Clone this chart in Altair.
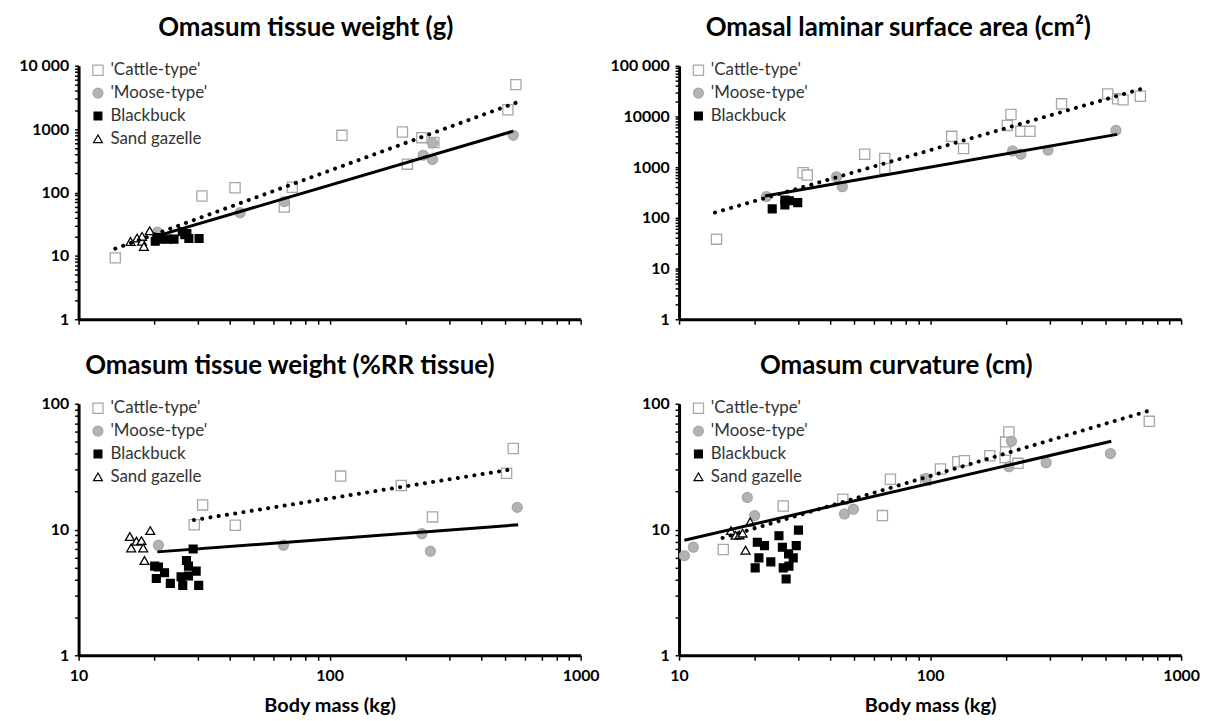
import altair as alt
import pandas as pd

GROUPS = ["'Cattle-type'", "'Moose-type'", "Blackbuck", "Sand gazelle"]

# ---- Panel 1: Omasum tissue weight (g)
cattle_x1 = [14, 31, 42, 66, 71, 112, 195, 204, 233, 260, 513, 552]
cattle_y1 = [9.3, 88, 119, 59, 121, 798, 899, 280, 734, 613, 2018, 5035]
moose_x1 = [20.6, 44, 66, 236, 257, 257, 539]
moose_y1 = [23.7, 48, 72, 387, 604, 332, 798]
bb_x1 = [20.2, 20.5, 21.2, 22.6, 24.0, 25.9, 26.5, 27.0, 27.5, 30.2]
bb_y1 = [17.0, 19.5, 18.4, 18.4, 18.4, 24.3, 21.5, 22.5, 18.8, 18.8]
sg_x1 = [16.1, 17.1, 17.9, 18.2, 19.2, 17.9]
sg_y1 = [16.9, 19.1, 17.0, 14.1, 24.9, 20.3]
cattle_fit_x1 = [14, 560]
cattle_fit_y1 = [13, 2656]
moose_fit_x1 = [20.3, 539]
moose_fit_y1 = [20.3, 930]

# ---- Panel 2: Omasal laminar surface area (cm2)
cattle_x2 = [14.1, 31.2, 32.4, 54.9, 66, 66, 122, 136, 203, 210, 230, 250, 334, 510, 559, 587, 688]
cattle_y2 = [38, 774, 697, 1799, 1480, 943, 4055, 2323, 6664, 10940, 5080, 5080, 17740, 27870, 22230, 21230, 25000]
moose_x2 = [22.3, 42.4, 44.7, 213, 230, 295, 550]
moose_y2 = [262, 646, 411, 2090, 1799, 2154, 5310]
bb_x2 = [23.5, 26.4, 26.4, 27.5, 29.7]
bb_y2 = [150, 180, 225, 218, 200]
cattle_fit_x2 = [13.9, 694]
cattle_fit_y2 = [127, 34900]
moose_fit_x2 = [22, 556]
moose_fit_y2 = [270, 4436]

# ---- Panel 3: Omasum tissue weight (%RR tissue)
cattle_x3 = [28.9, 31.2, 42.1, 110.6, 193, 257, 507, 539]
cattle_y3 = [10.9, 15.7, 10.8, 26.6, 22.4, 12.6, 28.0, 44.1]
moose_x3 = [20.8, 65.5, 233, 252, 559]
moose_y3 = [7.5, 7.5, 9.26, 6.72, 15.0]
bb_x3 = [20.1, 20.8, 20.4, 22.0, 23.2, 26.0, 25.6, 26.9, 27.4, 27.4, 29.4, 30.1, 28.6]
bb_y3 = [5.12, 5.04, 4.08, 4.53, 3.73, 3.6, 4.21, 5.67, 5.12, 4.27, 4.67, 3.6, 7.0]
sg_x3 = [16.0, 16.2, 17.0, 17.8, 18.1, 18.3, 19.3]
sg_y3 = [8.8, 7.14, 8.07, 8.17, 7.14, 5.67, 9.8]
cattle_fit_x3 = [28.8, 544]
cattle_fit_y3 = [11.9, 30.3]
moose_fit_x3 = [20.6, 564]
moose_fit_y3 = [6.64, 10.9]

# ---- Panel 4: Omasum curvature (cm)
cattle_x4 = [15, 26, 44.9, 64.6, 69.5, 96, 110, 129, 137, 173, 199, 200, 200, 206, 224, 747]
cattle_y4 = [6.93, 15.4, 17.4, 12.9, 25.1, 24.8, 30.3, 34.6, 35.2, 38.6, 37.4, 42.7, 49.8, 59.7, 33.6, 72.5]
moose_x4 = [10.5, 11.4, 18.7, 20.0, 45.6, 49.5, 96.4, 206, 211, 290, 523]
moose_y4 = [6.2, 7.23, 18.0, 12.9, 13.3, 14.5, 25.5, 31.6, 50.3, 34.0, 40.2]
bb_x4 = [20.5, 20.8, 20.1, 21.9, 23.2, 25.0, 25.8, 26.0, 26.7, 27.4, 27.3, 28.5, 29.3, 29.9]
bb_y4 = [7.92, 5.95, 4.96, 7.45, 5.53, 8.93, 7.23, 4.96, 4.04, 5.12, 6.4, 5.95, 7.45, 9.9]
sg_x4 = [16.1, 16.8, 17.4, 17.9, 19.2, 18.4]
sg_y4 = [9.8, 9.0, 9.06, 9.36, 11.5, 6.85]
cattle_fit_x4 = [14.9, 752]
cattle_fit_y4 = [8.57, 88.5]
moose_fit_x4 = [10.5, 527]
moose_fit_y4 = [8.22, 50.3]

STYLE = {
    "'Cattle-type'": dict(shape="square", fill="white", stroke="#a6a6a6", size=105),
    "'Moose-type'": dict(shape="circle", fill="#b3b3b3", stroke="#a6a6a6", size=100),
    "Blackbuck": dict(shape="square", fill="black", stroke="black", size=62),
    "Sand gazelle": dict(shape="triangle-up", fill="white", stroke="black", size=80),
}

FONT = "Lato"


def minor_ticks(lo_exp, hi_exp):
    vals = []
    for e in range(lo_exp, hi_exp):
        for m in range(1, 10):
            vals.append(m * 10 ** e)
    vals.append(10 ** hi_exp)
    return vals


def label_expr(labels):
    expr = "''"
    for v, t in labels.items():
        expr = f"datum.value == {v} ? '{t}' : ({expr})"
    return expr


def panel(title, dx, series, fits, ymax_exp, ylabels, bottom):
    groups = [g for g, _, _ in series]
    rows = []
    for g, xs, ys in series:
        for a, b in zip(xs, ys):
            rows.append({"x": a, "y": b, "group": g})
    df = pd.DataFrame(rows)
    frows = []
    for kind, xs, ys in fits:
        for a, b in zip(xs, ys):
            frows.append({"x": a, "y": b, "kind": kind})
    fdf = pd.DataFrame(frows)

    xscale = alt.Scale(type="log", domain=[10, 1000], nice=False)
    yscale = alt.Scale(type="log", domain=[1, 10 ** ymax_exp], nice=False)
    xaxis = alt.Axis(
        values=minor_ticks(1, 3),
        labelExpr=label_expr({10: "10", 100: "100", 1000: "1000"}) if bottom else "''",
        labels=bottom,
        title="Body mass (kg)" if bottom else None,
        titleFont=FONT, titleFontSize=20, titleFontWeight="bold", titleColor="black",
        titlePadding=13,
        labelFont=FONT, labelFontSize=16, labelFontWeight="bold", labelColor="black",
        labelOverlap=False, labelPadding=7, labelFlush=False,
        domainColor="black", domainWidth=3, tickColor="black", tickWidth=1.5, tickSize=5,
        grid=False,
    )
    yaxis = alt.Axis(
        values=minor_ticks(0, ymax_exp),
        labelExpr=label_expr(ylabels),
        title=None,
        labelFont=FONT, labelFontSize=16, labelFontWeight="bold", labelColor="black",
        labelOverlap=False, labelPadding=6, labelFlush=False,
        domainColor="black", domainWidth=3, tickColor="black", tickWidth=1.5, tickSize=4,
        grid=False,
    )
    legend = alt.Legend(
        orient="none", legendX=11, legendY=-4, title=None, padding=0,
        labelFont=FONT, labelFontSize=17, labelColor="#333333",
        rowPadding=5, labelOffset=4, symbolStrokeWidth=1.2,
    )
    enc = dict(
        shape=alt.Shape("group:N", sort=groups, legend=legend,
                        scale=alt.Scale(domain=groups, range=[STYLE[g]["shape"] for g in groups])),
        fill=alt.Fill("group:N", sort=groups, legend=legend,
                      scale=alt.Scale(domain=groups, range=[STYLE[g]["fill"] for g in groups])),
        stroke=alt.Stroke("group:N", sort=groups, legend=legend,
                          scale=alt.Scale(domain=groups, range=[STYLE[g]["stroke"] for g in groups])),
        size=alt.Size("group:N", sort=groups, legend=legend,
                      scale=alt.Scale(type="ordinal", domain=groups,
                                      range=[STYLE[g]["size"] for g in groups])),
    )
    pts = alt.Chart(df).mark_point(opacity=1, strokeWidth=1.3).encode(
        x=alt.X("x:Q", scale=xscale, axis=xaxis),
        y=alt.Y("y:Q", scale=yscale, axis=yaxis),
        **enc,
    )
    solid = alt.Chart(fdf).transform_filter(alt.datum.kind == "moose").mark_line(
        color="black", strokeWidth=3
    ).encode(x=alt.X("x:Q", scale=xscale), y=alt.Y("y:Q", scale=yscale))
    dotted = alt.Chart(fdf).transform_filter(alt.datum.kind == "cattle").mark_line(
        color="black", strokeWidth=4, strokeDash=[0.1, 8.3], strokeCap="round"
    ).encode(x=alt.X("x:Q", scale=xscale), y=alt.Y("y:Q", scale=yscale))
    return alt.layer(pts, solid, dotted).properties(
        width=505, height=255 if not bottom else 253,
        title=alt.TitleParams(title, font=FONT, fontSize=26, fontWeight="bold", color="black",
                              anchor="middle", dx=dx, offset=17),
    )


p1 = panel("Omasum tissue weight (g)", -24,
           [(GROUPS[0], cattle_x1, cattle_y1), (GROUPS[1], moose_x1, moose_y1),
            (GROUPS[2], bb_x1, bb_y1), (GROUPS[3], sg_x1, sg_y1)],
           [("cattle", cattle_fit_x1, cattle_fit_y1), ("moose", moose_fit_x1, moose_fit_y1)],
           4, {1: "1", 10: "10", 100: "100", 1000: "1000", 10000: "10 000"}, False)
p2 = panel("Omasal laminar surface area (cm²)", -32,
           [(GROUPS[0], cattle_x2, cattle_y2), (GROUPS[1], moose_x2, moose_y2),
            (GROUPS[2], bb_x2, bb_y2)],
           [("cattle", cattle_fit_x2, cattle_fit_y2), ("moose", moose_fit_x2, moose_fit_y2)],
           5, {1: "1", 10: "10", 100: "100", 1000: "1000", 10000: "10000", 100000: "100 000"}, False)
p3 = panel("Omasum tissue weight (%RR tissue)", -40,
           [(GROUPS[0], cattle_x3, cattle_y3), (GROUPS[1], moose_x3, moose_y3),
            (GROUPS[2], bb_x3, bb_y3), (GROUPS[3], sg_x3, sg_y3)],
           [("cattle", cattle_fit_x3, cattle_fit_y3), ("moose", moose_fit_x3, moose_fit_y3)],
           2, {1: "1", 10: "10", 100: "100"}, True)
p4 = panel("Omasum curvature (cm)", -34,
           [(GROUPS[0], cattle_x4, cattle_y4), (GROUPS[1], moose_x4, moose_y4),
            (GROUPS[2], bb_x4, bb_y4), (GROUPS[3], sg_x4, sg_y4)],
           [("cattle", cattle_fit_x4, cattle_fit_y4), ("moose", moose_fit_x4, moose_fit_y4)],
           2, {1: "1", 10: "10", 100: "100"}, True)

RES = dict(x="independent", y="independent", shape="independent", fill="independent",
           stroke="independent", size="independent")
chart = alt.concat(p1, p2, p3, p4, columns=2, spacing={"row": 85, "column": 99},
                   bounds="flush").resolve_scale(**RES).configure_view(
    stroke=None
).properties(background="white", padding={"left": 10, "top": 5, "right": 0, "bottom": 0})

chart.save("out.html", embed_options={"renderer": "svg", "actions": False})
